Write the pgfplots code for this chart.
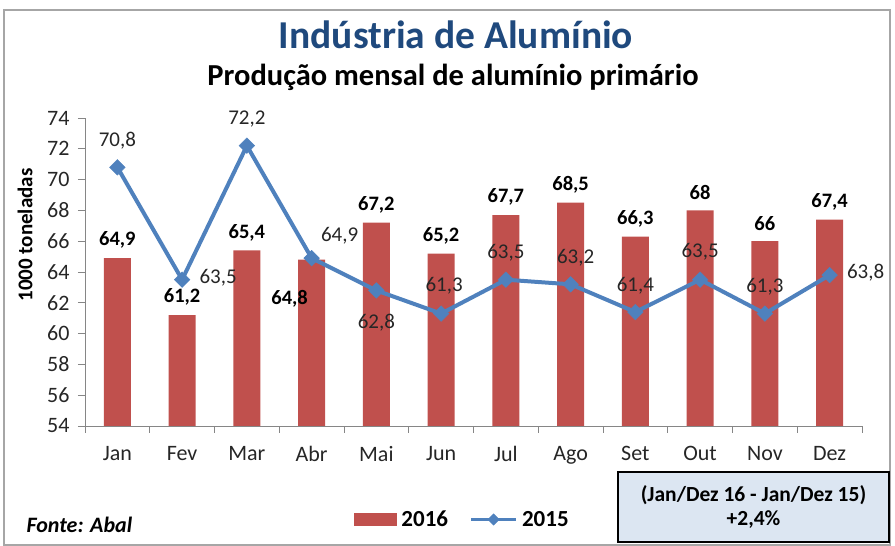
\documentclass[border=0pt]{standalone}
\usepackage{fontspec}
\setmainfont{Carlito}
\usepackage{pgfplots}
\pgfplotsset{compat=1.18}
\usepackage{pgfplotstable}
\definecolor{barred}{HTML}{C0504D}
\definecolor{lineblue}{HTML}{4F81BD}
\definecolor{titleblue}{HTML}{1F497D}
\definecolor{axisgray}{HTML}{868686}
\definecolor{boxfill}{HTML}{DCE6F2}
\definecolor{framegray}{HTML}{A6A6A6}

\pgfplotsset{
  mylinelegend/.style={legend image code/.code={\draw[mark repeat=2, mark phase=2, ##1, line width=3pt, mark size=4pt] plot coordinates {(0pt,0pt) (22.5pt,0pt) (45pt,0pt)};}},
  mybarlegend/.style={legend image code/.code={\fill[barred] (0pt,-6.5pt) rectangle (43pt,6.5pt);}},
}

\pgfplotstableread{
x y lab dx dy
0 64.9 64,9 0 18
1 61.2 61,2 0 18
2 65.4 65,4 0 18
3 64.8 64,8 -22 -39
4 67.2 67,2 0 18
5 65.2 65,2 0 18
6 67.7 67,7 0 18
7 68.5 68,5 0 18
8 66.3 66,3 0 18
9 68 68 0 18
10 66 66 0 18
11 67.4 67,4 0 18
}\barsdata

\pgfplotstableread{
x y lab dx dy
0 70.8 70,8 0 27
1 63.5 63,5 36 2
2 72.2 72,2 0 27
3 64.9 64,9 28 22
4 62.8 62,8 0 -32
5 61.3 61,3 3 28
6 63.5 63,5 0 27
7 63.2 63,2 5 27
8 61.4 61,4 0 26
9 63.5 63,5 0 28
10 61.3 61,3 0 27
11 63.8 63,8 36 2
}\linedata

\begin{document}
\begin{tikzpicture}
\path[use as bounding box] (0pt,0pt) rectangle (895pt,546pt);
\draw[framegray, line width=1.5pt] (4pt,1pt) rectangle (890pt,536pt);

\begin{axis}[
  at={(85pt,120pt)}, anchor=south west,
  scale only axis, width=777pt, height=308pt,
  xmin=-0.5, xmax=11.5, ymin=54, ymax=74,
  axis x line*=bottom, axis y line*=left,
  axis line style={axisgray, line width=0.8pt},
  ytick={54,56,...,74},
  xtick={-0.5,0.5,...,11.5},
  x tick label as interval,
  xticklabels={Jan,Fev,Mar,Abr,Mai,Jun,Jul,Ago,Set,Out,Nov,Dez},
  tick align=outside, major tick length=7pt,
  tick style={axisgray, line width=0.8pt},
  ticklabel style={font=\fontsize{22}{26}\selectfont, text=black!85},
  yticklabel style={xshift=-5pt},
  xticklabel style={yshift=-10pt},
  /pgf/number format/assume math mode=true,
  ylabel={1000 toneladas},
  ylabel style={font=\bfseries\fontsize{21}{25}\selectfont, at={(axis description cs:-0.077,0.62)}, anchor=center},
  legend style={draw=none, fill=none, at={(0.342,-0.3036)}, anchor=west,
    font=\bfseries\fontsize{23}{27}\selectfont,
    nodes={inner sep=1.5pt},
    /tikz/every odd column/.append style={column sep=3pt},
    /tikz/every even column/.append style={column sep=20pt}},
  legend columns=2,
]
\addplot[ybar, bar width=27pt, fill=barred, draw=none,
  nodes near coords, point meta=explicit symbolic,
  visualization depends on={\thisrow{dx} \as \dx},
  visualization depends on={\thisrow{dy} \as \dy},
  every node near coord/.append style={anchor=center, xshift=\dx*1pt, yshift=\dy*1pt,
    font=\bfseries\fontsize{20.5}{24}\selectfont, text=black},
  mybarlegend
] table[x=x, y=y, meta=lab] {\barsdata};
\addlegendentry{2016}

\addplot[color=lineblue, line width=4pt, mark=square*, mark size=5.5pt,
  mark options={rotate=45, line width=0.5pt, fill=lineblue},
  nodes near coords, point meta=explicit symbolic,
  visualization depends on={\thisrow{dx} \as \dx},
  visualization depends on={\thisrow{dy} \as \dy},
  every node near coord/.append style={anchor=center, xshift=\dx*1pt, yshift=\dy*1pt,
    font=\fontsize{21}{25}\selectfont, text=black!85},
  mylinelegend
] table[x=x, y=y, meta=lab] {\linedata};
\addlegendentry{2015}
\end{axis}

\node[font=\bfseries\fontsize{39.5}{44}\selectfont, text=titleblue] at (456pt,511pt) {Indústria de Alumínio};
\node[font=\bfseries\fontsize{30.5}{35}\selectfont] at (453pt,469pt) {Produção mensal de alumínio primário};
\node[font=\bfseries\itshape\fontsize{22}{26}\selectfont, anchor=west] at (23pt,21pt) {Fonte: Abal};
\draw[black, line width=1.5pt, fill=boxfill] (618pt,4pt) rectangle (889pt,74pt);
\node[font=\bfseries\fontsize{21.5}{25}\selectfont] at (753.5pt,51pt) {(Jan/Dez 16 - Jan/Dez 15)};
\node[font=\bfseries\fontsize{21.5}{25}\selectfont] at (753.5pt,26pt) {+2,4\%};
\end{tikzpicture}
\end{document}
